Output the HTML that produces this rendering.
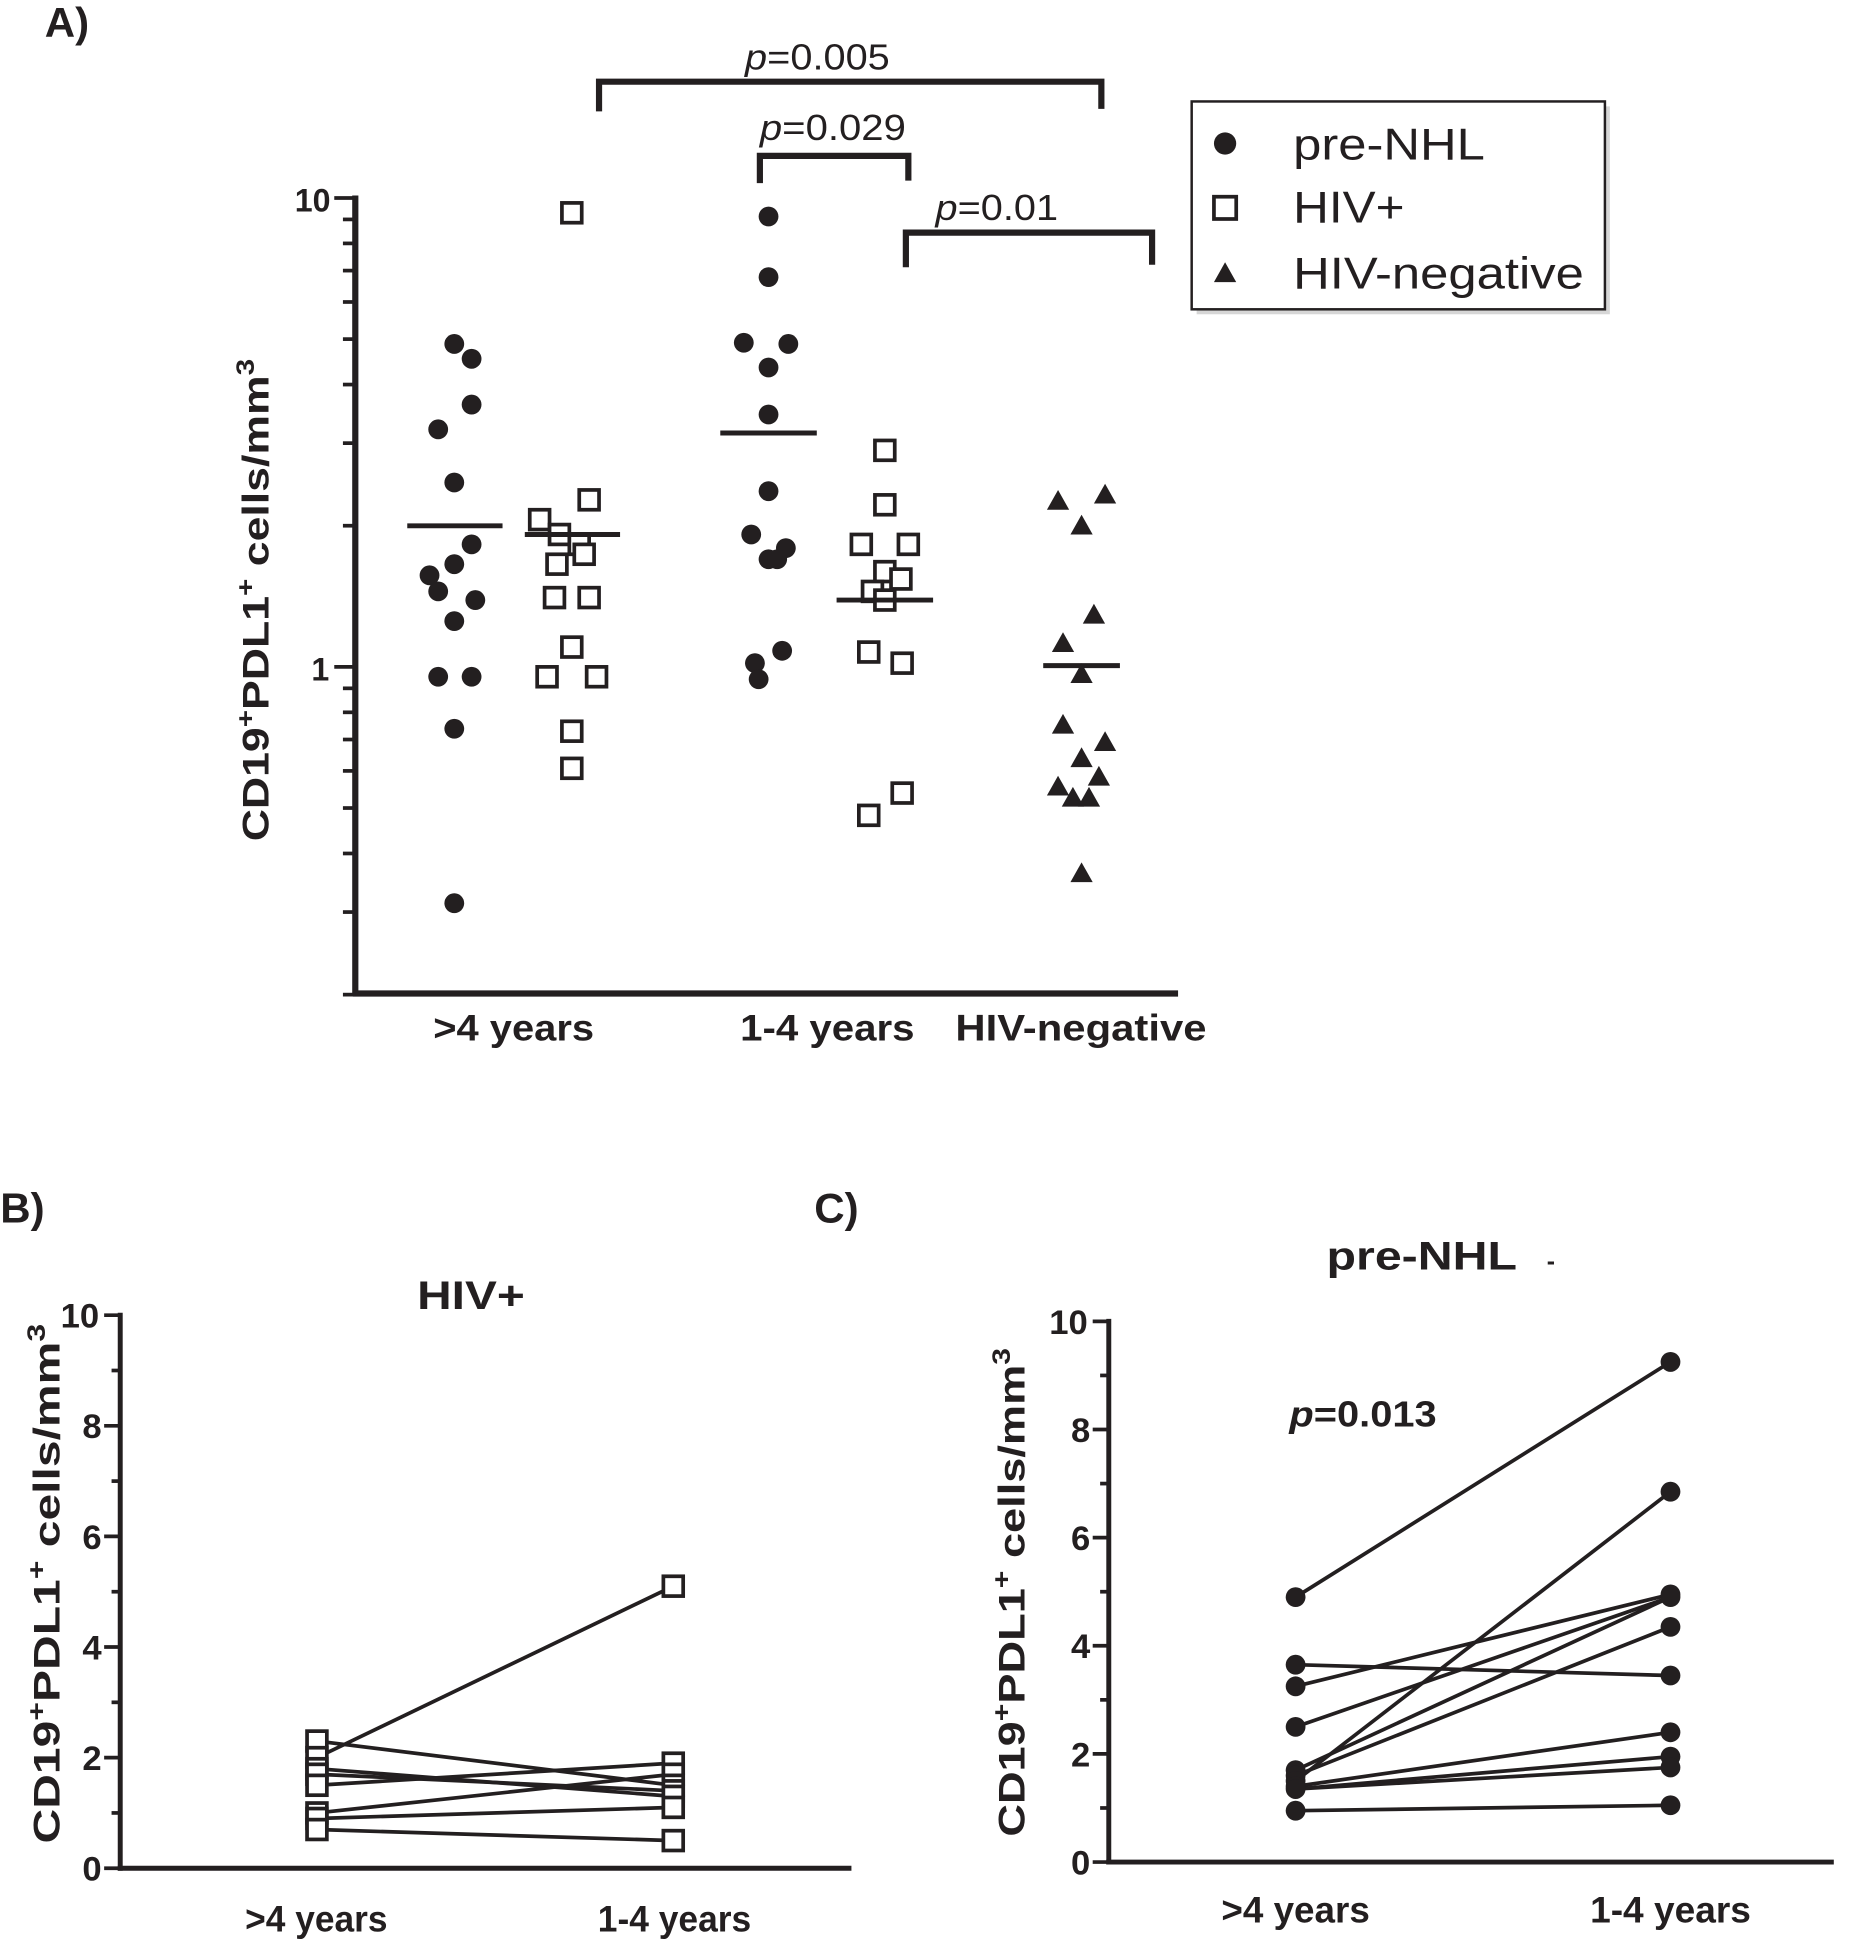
<!DOCTYPE html>
<html><head><meta charset="utf-8"><style>
html,body{margin:0;padding:0;background:#fff}
svg{display:block}
text{font-family:"Liberation Sans",Arial,sans-serif;fill:#231f20}
</style></head><body>
<svg id="s" xmlns="http://www.w3.org/2000/svg" width="1860" height="1940" viewBox="0 0 1503 1568">
<rect width="1503" height="1568" fill="#fff"/>
<!-- Panel A texts -->
<text x="36" y="30" font-size="34" font-weight="bold">A)</text>
<text x="267" y="171" font-size="26" font-weight="bold" text-anchor="end">10</text>
<text x="266" y="550" font-size="26" font-weight="bold" text-anchor="end">1</text>
<text transform="translate(217,485) rotate(-90)" font-size="30" font-weight="bold" text-anchor="middle" textLength="390" lengthAdjust="spacingAndGlyphs">CD19<tspan dy="-12" font-size="20">+</tspan><tspan dy="12">PDL1</tspan><tspan dy="-12" font-size="20">+</tspan><tspan dy="12"> cells/mm</tspan><tspan dy="-12" font-size="20">3</tspan></text>
<text x="350" y="841" font-size="30" font-weight="bold" textLength="130" lengthAdjust="spacingAndGlyphs">&gt;4 years</text>
<text x="598" y="841" font-size="30" font-weight="bold" textLength="141" lengthAdjust="spacingAndGlyphs">1-4 years</text>
<text x="772" y="841" font-size="30" font-weight="bold" textLength="203" lengthAdjust="spacingAndGlyphs">HIV-negative</text>
<text x="602" y="56" font-size="29" textLength="117" lengthAdjust="spacingAndGlyphs"><tspan font-style="italic">p</tspan>=0.005</text>
<text x="614" y="113" font-size="29" textLength="118" lengthAdjust="spacingAndGlyphs"><tspan font-style="italic">p</tspan>=0.029</text>
<text x="756" y="178" font-size="29" textLength="99" lengthAdjust="spacingAndGlyphs"><tspan font-style="italic">p</tspan>=0.01</text>
<rect x="967" y="86" width="334" height="168" fill="#bbb" opacity="0.6"/>
<rect x="963" y="82" width="334" height="168" fill="#fff" stroke="#231f20" stroke-width="2"/>
<text x="1045" y="129" font-size="36" textLength="155" lengthAdjust="spacingAndGlyphs">pre-NHL</text>
<text x="1045" y="180" font-size="36" textLength="90" lengthAdjust="spacingAndGlyphs">HIV+</text>
<text x="1045" y="233" font-size="36" textLength="235" lengthAdjust="spacingAndGlyphs">HIV-negative</text>
<!-- Panel B -->
<text x="0" y="988" font-size="34" font-weight="bold">B)</text>
<text x="337" y="1058" font-size="32" font-weight="bold" textLength="87" lengthAdjust="spacingAndGlyphs">HIV+</text>
<text transform="translate(48,1280) rotate(-90)" font-size="30" font-weight="bold" text-anchor="middle" textLength="420" lengthAdjust="spacingAndGlyphs">CD19<tspan dy="-12" font-size="20">+</tspan><tspan dy="12">PDL1</tspan><tspan dy="-12" font-size="20">+</tspan><tspan dy="12">  cells/mm</tspan><tspan dy="-12" font-size="20">3</tspan></text>
<text x="198" y="1561" font-size="30" font-weight="bold" textLength="115" lengthAdjust="spacingAndGlyphs">&gt;4 years</text>
<text x="483" y="1561" font-size="30" font-weight="bold" textLength="124" lengthAdjust="spacingAndGlyphs">1-4 years</text>
<!-- Panel C -->
<text x="658" y="988" font-size="34" font-weight="bold">C)</text>
<text x="1072" y="1026" font-size="32" font-weight="bold" textLength="154" lengthAdjust="spacingAndGlyphs">pre-NHL</text>
<text x="1250" y="1026" font-size="20" font-weight="bold">-</text>
<text x="1042" y="1153" font-size="29" font-weight="bold" textLength="119" lengthAdjust="spacingAndGlyphs"><tspan font-style="italic">p</tspan>=0.013</text>
<text transform="translate(828,1287) rotate(-90)" font-size="30" font-weight="bold" text-anchor="middle" textLength="395" lengthAdjust="spacingAndGlyphs">CD19<tspan dy="-12" font-size="20">+</tspan><tspan dy="12">PDL1</tspan><tspan dy="-12" font-size="20">+</tspan><tspan dy="12">  cells/mm</tspan><tspan dy="-12" font-size="20">3</tspan></text>
<text x="987" y="1554" font-size="30" font-weight="bold" textLength="120" lengthAdjust="spacingAndGlyphs">&gt;4 years</text>
<text x="1285" y="1554" font-size="30" font-weight="bold" textLength="130" lengthAdjust="spacingAndGlyphs">1-4 years</text>
<g id="g" stroke="#231f20" fill="none"></g>
<g id="t"></g>
</svg>
<script>
var NS="http://www.w3.org/2000/svg",g=document.getElementById('g'),T=document.getElementById('t');
function el(n,a,p){var e=document.createElementNS(NS,n);for(var k in a)e.setAttribute(k,a[k]);(p||g).appendChild(e);return e;}
function L(x1,y1,x2,y2,w){el('line',{x1:x1,y1:y1,x2:x2,y2:y2,'stroke-width':w||3});}
function C(x,y,r){el('circle',{cx:x,cy:y,r:r||8,fill:'#231f20',stroke:'none'});}
function S(x,y,s){s=s||8;el('rect',{x:x-s,y:y-s,width:2*s,height:2*s,fill:'#fff','stroke-width':3});}
function Tr(x,y){el('polygon',{points:(x)+','+(y-9)+' '+(x-9)+','+(y+7)+' '+(x+9)+','+(y+7),fill:'#231f20',stroke:'none'});}
L(287,158,287,805,5);L(285,803,952,803,5);
function ly(v){return 539-379*Math.log10(v);}
for(var v of [0.2,0.3,0.4,0.5,0.6,0.7,0.8,0.9,1,2,3,4,5,6,7,8,9,10]){var m=(v==1||v==10);L(m?270:277,ly(v),287,ly(v),3);}
el('polyline',{points:'484,90 484,66 890,66 890,88','stroke-width':5});
el('polyline',{points:'614,148 614,126 734,126 734,146','stroke-width':5});
el('polyline',{points:'732,216 732,188 931,188 931,214','stroke-width':5});
[[367,278],[381,290],[381,327],[354,347],[367,390],[381,440],[367,456],[347,465],[354,478],[384,485],[367,502],[354,547],[381,547],[367,589],[367,730]].forEach(p=>C(p[0],p[1]));
[[462,172],[476,404],[436,420],[452,432],[468,440],[472,448],[450,456],[448,483],[476,483],[462,523],[442,547],[482,547],[462,591],[462,621]].forEach(p=>S(p[0],p[1]));
[[621,175],[621,224],[601,277],[637,278],[621,297],[621,335],[621,397],[607,432],[635,443],[621,452],[628,452],[632,526],[610,536],[613,549]].forEach(p=>C(p[0],p[1]));
[[715,364],[715,408],[696,440],[734,440],[715,462],[728,468],[705,478],[715,485],[702,527],[729,536],[729,641],[702,659]].forEach(p=>S(p[0],p[1]));
[[855,405],[893,400],[874,425],[884,497],[859,520],[874,545],[859,586],[893,600],[874,613],[888,628],[855,636],[867,645],[880,645],[874,706]].forEach(p=>Tr(p[0],p[1]));
L(329,425,406,425,4);L(424,432,501,432,4);L(582,350,660,350,4);L(676,485,754,485,4);L(843,538,905,538,4);
C(990,116,9);S(990,168,9);Tr(990,221);
L(97,1061,97,1512,4);L(95,1510,688,1510,4);
for(var i=0;i<=10;i++){var y=1510-44.7*i;L(i%2?90:84,y,97,y,3);
 if(i%2==0){var t=el('text',{x:i==10?80:82,y:y+10,'font-size':28,'font-weight':'bold','text-anchor':'end'},T);t.textContent=i;}}
function yb(v){return 1510-44.7*v;}
[[2.0,5.1],[2.3,1.5],[1.8,1.3],[1.7,1.4],[1.5,1.9],[1.0,1.7],[0.9,1.1],[0.7,0.5]].forEach(p=>L(256,yb(p[0]),544,yb(p[1]),3));
[2.3,2.0,1.8,1.7,1.5,1.0,0.9,0.7].forEach(v=>S(256,yb(v),8));
[5.1,1.9,1.7,1.5,1.4,1.3,1.1,0.5].forEach(v=>S(544,yb(v),8));
L(896,1066,896,1507,4);L(894,1505,1482,1505,4);
for(var i=0;i<=10;i++){var y=1505-43.7*i;L(i%2?889:883,y,896,y,3);
 if(i%2==0){var t=el('text',{x:i==10?879:881,y:y+10,'font-size':28,'font-weight':'bold','text-anchor':'end'},T);t.textContent=i;}}
function yc(v){return 1505-43.7*v;}
[[4.9,9.25],[3.65,3.45],[3.25,4.95],[2.5,4.9],[1.5,6.85],[1.6,4.35],[1.7,4.9],[1.4,2.4],[1.35,1.95],[1.35,1.75],[0.95,1.05]].forEach(p=>L(1047,yc(p[0]),1350,yc(p[1]),3));
[4.9,3.65,3.25,2.5,1.7,1.6,1.5,1.4,1.35,0.95].forEach(v=>C(1047,yc(v),8));
[9.25,6.85,4.95,4.9,4.35,3.45,2.4,1.95,1.75,1.05].forEach(v=>C(1350,yc(v),8));
</script>
</body></html>
